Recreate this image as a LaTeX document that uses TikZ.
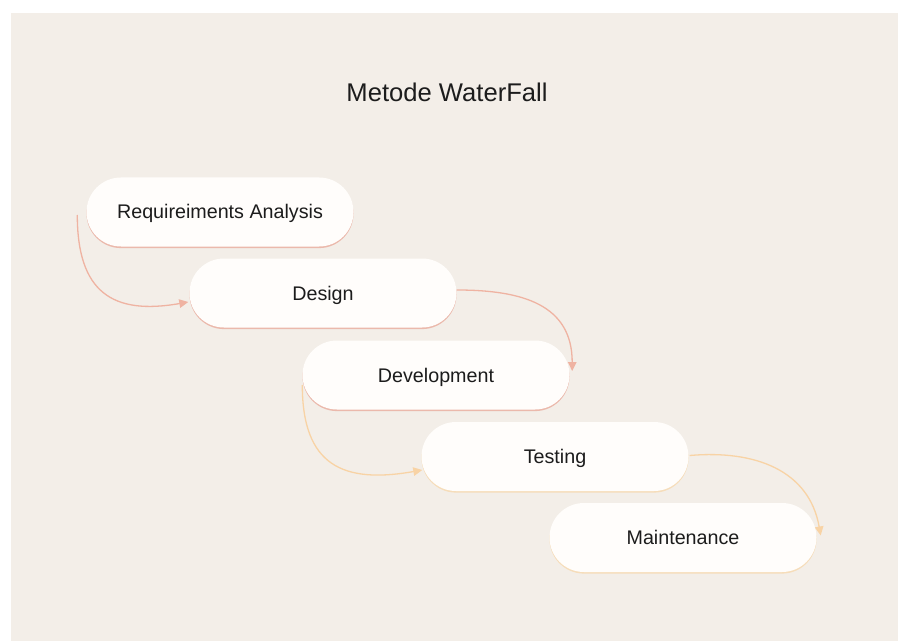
\documentclass[tikz,border=0pt]{standalone}
\usepackage{fontspec}
\setmainfont{Liberation Sans}
\usetikzlibrary{arrows.meta,calc,shadows}

\definecolor{paper}{HTML}{F3EEE8}
\definecolor{pillfill}{HTML}{FFFDFB}
\definecolor{rosy}{HTML}{EFB3A2}
\definecolor{peach}{HTML}{F8D3A5}
\definecolor{rosyedge}{HTML}{EBB9AC}
\definecolor{peachedge}{HTML}{F6DDBA}
\definecolor{ink}{HTML}{1C1C1C}

\tikzset{
  pill/.style={
    rectangle, rounded corners=34.5pt, fill=pillfill,
    minimum width=267pt, minimum height=69pt, inner sep=0pt,
    text=ink, font=\fontsize{19.7}{23}\selectfont,
    text height=14pt, text depth=0pt
  },
  rosypill/.style={pill,
    drop shadow={shadow xshift=0pt, shadow yshift=-1.6pt, fill=rosyedge, opacity=1}},
  peachpill/.style={pill,
    drop shadow={shadow xshift=0pt, shadow yshift=-1.6pt, fill=peachedge, opacity=1}},
  flow/.style={line width=1.3pt, -{Triangle[length=9pt,width=8.5pt]}},
  rosyflow/.style={flow, draw=rosy},
  peachflow/.style={flow, draw=peach}
}

\begin{document}
\begin{tikzpicture}[x=1pt,y=1pt]
  % canvas
  \useasboundingbox (0,0) rectangle (899,641);
  \fill[white] (0,0) rectangle (899,641);
  \fill[paper] (11,0) rectangle (898,628);

  % title
  \node[anchor=base, text=ink, font=\fontsize{25.6}{30}\selectfont] (title) at (447,539) {Metode WaterFall};

  % phases
  \node[rosypill]  (req)   at (220,429) {Requireiments Analysis};
  \node[rosypill]  (dsg)   at (323,348) {Design};
  \node[rosypill]  (dev)   at (436,266) {Development};
  \node[peachpill] (tst)   at (555,184.5) {Testing};
  \node[peachpill] (mnt)   at (683,103.5) {Maintenance};

  % connector end points
  \coordinate (s1) at ($(req.west)+(-9,-3)$);
  \coordinate (e1) at ($(dsg.west)+(-1,-9)$);
  \coordinate (s2) at ($(dsg.east)+(0,3)$);
  \coordinate (e2) at ($(dev.east)+(2.5,4)$);
  \coordinate (s3) at ($(dev.west)+(0,-10)$);
  \coordinate (e3) at ($(tst.west)+(1,-13.5)$);
  \coordinate (s4) at ($(tst.east)+(1,1)$);
  \coordinate (e4) at ($(mnt.east)+(4,2)$);

  % connectors between consecutive phases
  \draw[rosyflow]  (s1) to[out=-90, in=190, looseness=1.4] (e1);
  \draw[rosyflow]  (s2) to[out=0, in=90, looseness=1.2] (e2);
  \draw[peachflow] (s3) to[out=-90, in=190, looseness=1.4] (e3);
  \draw[peachflow] (s4) to[out=5, in=100, looseness=1.1] (e4);
\end{tikzpicture}
\end{document}
